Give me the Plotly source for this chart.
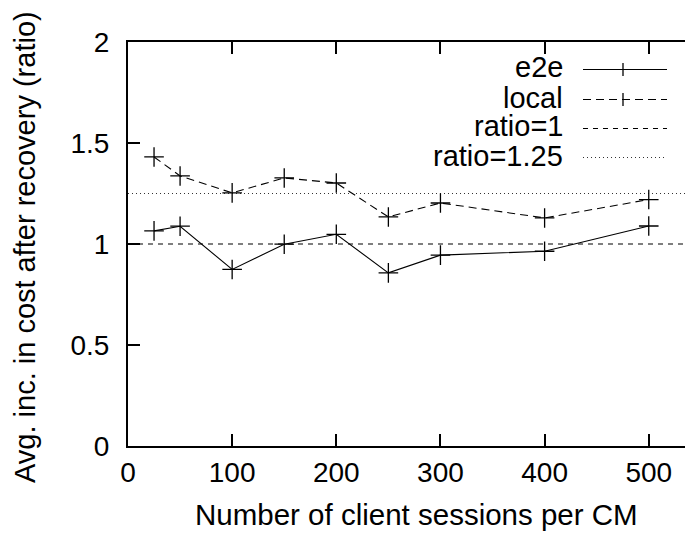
import plotly.graph_objects as go

# ---- data ----
sessions = [25, 50, 100, 150, 200, 250, 300, 400, 500]
e2e = [1.065, 1.088, 0.874, 0.999, 1.048, 0.857, 0.945, 0.964, 1.089]
local = [1.431, 1.337, 1.253, 1.327, 1.302, 1.134, 1.203, 1.129, 1.220]
ratio_x = [0, 600]
ratio1 = [1.0, 1.0]
ratio125 = [1.25, 1.25]
legend_labels = ["e2e", "local", "ratio=1", "ratio=1.25"]
x_ticks = [0, 100, 200, 300, 400, 500]
y_ticks = [0, 0.5, 1, 1.5, 2]
y_tick_text = ["0", "0.5", "1", "1.5", "2"]

# page has an 8px body margin -> figure drawn 8px smaller, placed at (8, 8)
OFF = 8
W, H = 693 - OFF, 538 - OFF
PLOT_L, PLOT_R, PLOT_T, PLOT_B = 128, 693, 42, 446   # page pixel coordinates of plot area
ML = PLOT_L - OFF
MT = PLOT_T - OFF
MR = 0
MB = 538 - PLOT_B
PW = PLOT_R - PLOT_L
PH = PLOT_B - PLOT_T
FONT = "Liberation Sans, Arial, sans-serif"


def px_x(p):
    return (p - PLOT_L) / PW


def px_y(p):
    return (PLOT_B - p) / PH


marker = dict(symbol="cross-thin", size=14, line=dict(width=1.3, color="black"), color="black")

fig = go.Figure()
fig.add_trace(go.Scatter(x=ratio_x, y=ratio1, mode="lines",
                         line=dict(color="black", width=1.2, dash="5px,5px"), showlegend=False))
fig.add_trace(go.Scatter(x=ratio_x, y=ratio125, mode="lines",
                         line=dict(color="#333", width=1, dash="1px,3px"), showlegend=False))
fig.add_trace(go.Scatter(x=sessions, y=e2e, mode="lines+markers",
                         line=dict(color="black", width=1.1), marker=marker, showlegend=False))
fig.add_trace(go.Scatter(x=sessions, y=local, mode="lines+markers",
                         line=dict(color="black", width=1.1, dash="8px,5px"), marker=marker, showlegend=False))

shapes = []
annotations = []
# right-side ticks (the right border itself lies outside the picture)
for yv in [0.5, 1, 1.5]:
    shapes.append(dict(type="line", xref="paper", yref="y", x0=px_x(687), x1=1, y0=yv, y1=yv,
                       line=dict(color="black", width=1.5)))

# manual key: text right aligned, sample to the right
rows_y = [69.5, 99.5, 128.5, 157.5]
dashes = ["solid", "8px,5px", "5px,5px", "1px,3px"]
colors = ["black", "black", "black", "#333"]
for i, lab in enumerate(legend_labels):
    yy = rows_y[i]
    annotations.append(dict(text=lab, xref="paper", yref="paper", x=px_x(565), y=px_y(yy - 2),
                            xanchor="right", yanchor="middle", showarrow=False,
                            font=dict(family=FONT, size=29, color="black")))
    shapes.append(dict(type="line", xref="paper", yref="paper", x0=px_x(583), x1=px_x(667),
                       y0=px_y(yy), y1=px_y(yy),
                       line=dict(color=colors[i], width=1.1, dash=dashes[i])))
    if i < 2:
        shapes.append(dict(type="line", xref="paper", yref="paper", x0=px_x(623), x1=px_x(623),
                           y0=px_y(yy - 6.5), y1=px_y(yy + 6.5),
                           line=dict(color="black", width=1.3)))

# axis titles
annotations.append(dict(text="Number of client sessions per CM", xref="paper", yref="paper",
                        x=px_x(416), y=px_y(514.5), xanchor="center", yanchor="middle",
                        showarrow=False, font=dict(family=FONT, size=29.5, color="black")))
annotations.append(dict(text="Avg. inc. in cost after recovery (ratio)", xref="paper", yref="paper",
                        x=px_x(25), y=px_y(247), xanchor="center", yanchor="middle", textangle=-90,
                        showarrow=False, font=dict(family=FONT, size=29, color="black")))

fig.update_layout(
    width=W, height=H,
    margin=dict(l=ML, r=MR, t=MT, b=MB, pad=0),
    paper_bgcolor="white", plot_bgcolor="white",
    font=dict(family=FONT, size=28, color="black"),
    shapes=shapes, annotations=annotations,
    xaxis=dict(range=[0, PW / 1.0415], tickvals=x_ticks, ticks="inside", ticklen=12,
               tickwidth=1.5, tickcolor="black", showline=True, linewidth=2, linecolor="black",
               mirror="ticks", showgrid=False, zeroline=False,
               tickfont=dict(family=FONT, size=28, color="black")),
    yaxis=dict(range=[0, 2], tickvals=y_ticks, ticktext=y_tick_text, ticks="inside", ticklen=12,
               tickwidth=1.5, tickcolor="black", showline=True, linewidth=2, linecolor="black",
               mirror=False, showgrid=False, zeroline=False, ticklabelstandoff=11,
               tickfont=dict(family=FONT, size=28, color="black")),
)

fig.write_html("out.html")
